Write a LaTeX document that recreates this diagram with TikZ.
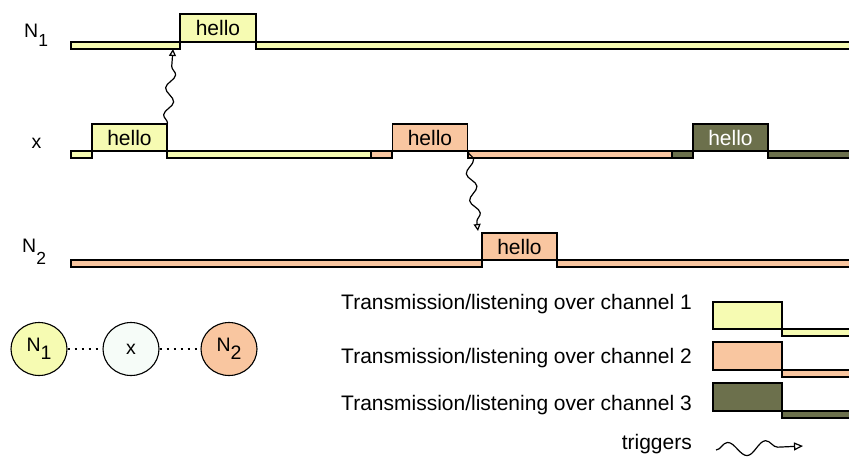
\documentclass[tikz,border=0pt]{standalone}
\usepackage{fontspec}
\setmainfont{Liberation Sans}
\usetikzlibrary{decorations.pathmorphing,arrows.meta,shapes.geometric}
\definecolor{cyel}{RGB}{246,251,178}
\definecolor{cpea}{RGB}{249,198,160}
\definecolor{coli}{RGB}{108,112,76}
\definecolor{cwht}{RGB}{246,252,248}
\tikzset{
  bar/.style={draw, line width=1.1pt},
  hellobox/.style={draw, line width=1.1pt, rectangle, minimum width=75pt, minimum height=27pt, inner sep=0pt, font=\fontsize{21}{24}\selectfont},
  legbox/.style={draw, line width=1.1pt, rectangle, minimum width=69pt, minimum height=27pt, inner sep=0pt},
  trig/.style={decorate, decoration={snake, amplitude=4.5pt, segment length=27pt, post length=6pt}, line width=1.2pt, -{Triangle[open, length=7pt, width=7pt]}},
  lab/.style={font=\fontsize{21}{24}\selectfont, inner sep=0pt},
  rowlab/.style={font=\fontsize{19.5}{22}\selectfont, inner sep=0pt},
  peer/.style={ellipse, draw, line width=1.1pt, minimum width=56pt, minimum height=53pt, inner sep=0pt, font=\fontsize{19.5}{22}\selectfont},
  link/.style={line width=1.2pt, dash pattern=on 2pt off 5pt},
}
\begin{document}
\begin{tikzpicture}[x=1pt,y=-1pt]
\clip (0,0) rectangle (849,456);
\fill[white] (0,0) rectangle (849,456);

% row labels
\node[rowlab, anchor=base west] (lN1) at (24,37) {N\raisebox{-9.5pt}{\fontsize{17.5}{17}\selectfont 1}};
\node[rowlab, anchor=center] (lx) at (36.5,143) {x};
\node[rowlab, anchor=base west] (lN2) at (22,252) {N\raisebox{-12pt}{\fontsize{17.5}{17}\selectfont 2}};

% N1 row
\draw[bar, fill=cyel] (71,42) rectangle (180,49);
\draw[bar, fill=cyel] (256,42) rectangle (855,49);
\node[hellobox, fill=cyel, minimum width=76pt, minimum height=28pt] (h1) at (218,28) {hello};

% x row
\draw[bar, fill=cyel] (71,151) rectangle (92,158);
\node[hellobox, fill=cyel] (hx1) at (129.5,137.5) {hello};
\draw[bar, fill=cyel] (167,151) rectangle (371,158);
\draw[bar, fill=cpea] (371,151) rectangle (392,158);
\node[hellobox, fill=cpea] (hx2) at (430,137.5) {hello};
\draw[bar, fill=cpea] (468,151) rectangle (672,158);
\draw[bar, fill=coli] (672,151) rectangle (693,158);
\node[hellobox, fill=coli, text=white] (hx3) at (730.5,137.5) {hello};
\draw[bar, fill=coli] (768,151) rectangle (855,158);

% N2 row
\draw[bar, fill=cpea] (71,260) rectangle (482,267);
\node[hellobox, fill=cpea] (h2) at (519.5,246.5) {hello};
\draw[bar, fill=cpea] (557,260) rectangle (855,267);

% triggers
\coordinate (t1) at (173,49);
\coordinate (t2) at (478,231);
\draw[trig] (hx1.north east) -- (t1);
\draw[trig] (hx2.south east) -- (t2);

% peers
\node[peer, fill=cyel] (c1) at (39,349) {N\raisebox{-8pt}{1}};
\node[peer, fill=cwht] (cx) at (131,349) {x};
\node[peer, fill=cpea] (c2) at (229,349) {N\raisebox{-8pt}{2}};
\draw[link] (c1) -- (cx);
\draw[link] (cx) -- (c2);

% legend
\node[lab, anchor=base east] (l1) at (692,309.5) {Transmission/listening over channel 1};
\node[lab, anchor=base east] (l2) at (692,363.5) {Transmission/listening over channel 2};
\node[lab, anchor=base east] (l3) at (692,410) {Transmission/listening over channel 3};
\node[lab, anchor=base east] (l4) at (692,449) {triggers};

\node[legbox, fill=cyel] (g1) at (747.5,315.5) {};
\draw[bar, fill=cyel] (782,329) rectangle (855,336);
\node[legbox, fill=cpea, minimum height=28pt] (g2) at (747.5,356) {};
\draw[bar, fill=cpea] (782,370) rectangle (855,377);
\node[legbox, fill=coli, minimum height=28pt] (g3) at (747.5,397) {};
\draw[bar, fill=coli] (782,411) rectangle (855,418);

\coordinate (ts) at (716,450);
\coordinate (te) at (803,446);
\draw[decorate, decoration={snake, amplitude=7pt, segment length=38pt, post length=14pt}, line width=1.2pt, -{Triangle[open, length=9pt, width=8pt]}] (ts) -- (te);
\end{tikzpicture}
\end{document}
